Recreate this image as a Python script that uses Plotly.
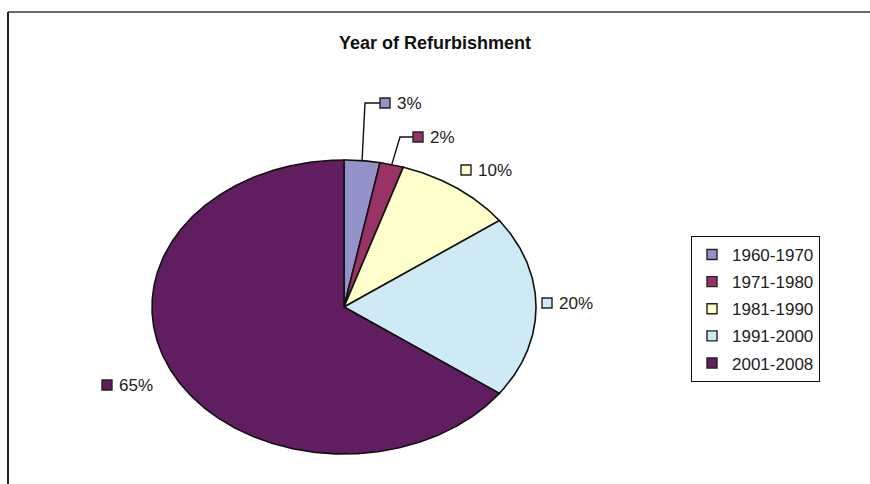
import numpy as np
import plotly.graph_objects as go

# ---- data ----
categories = ["1960-1970", "1971-1980", "1981-1990", "1991-2000", "2001-2008"]
shares = [3, 2, 10, 20, 65]
labels = ["3%", "2%", "10%", "20%", "65%"]
colors = ["#9393c9", "#993366", "#ffffcc", "#cdeaf5", "#601e60"]

# ---- layout constants (pixel space) ----
W, H = 870, 484
CX, CY, RX, RY = 344, 307, 192, 147
FONT = "Liberation Sans, Arial, sans-serif"
# label square marker positions (pixel) per slice
label_pos = [(385, 103), (418, 137), (466, 170), (547, 303), (107, 385)]
# leader elbow points for small slices (None = no leader)
leader_elbow = [(365, 103), (400, 137), None, None, None]

fig = go.Figure()

total = float(sum(shares))
cum = 0.0
mids = []
for cat, v, col in zip(categories, shares, colors):
    a0 = cum / total * 2 * np.pi
    a1 = (cum + v) / total * 2 * np.pi
    t = np.linspace(a0, a1, max(8, int(v * 6)))
    xs = np.concatenate([[CX], CX + RX * np.sin(t), [CX]])
    ys = np.concatenate([[CY], CY - RY * np.cos(t), [CY]])
    fig.add_trace(go.Scatter(x=xs, y=ys, mode="lines", fill="toself",
                             fillcolor=col, line=dict(color="#111111", width=1.6),
                             showlegend=False, hoverinfo="text", text=cat,
                             name=cat))
    am = (a0 + a1) / 2
    mids.append((CX + RX * np.sin(am), CY - RY * np.cos(am)))
    cum += v

# leader lines
for (mx, my), elbow, (lx, ly) in zip(mids, leader_elbow, label_pos):
    if elbow is None:
        continue
    fig.add_trace(go.Scatter(x=[mx, elbow[0], lx - 5], y=[my, elbow[1], ly],
                             mode="lines", line=dict(color="#111111", width=1.4),
                             showlegend=False, hoverinfo="skip"))

# label squares + texts
fig.add_trace(go.Scatter(
    x=[p[0] for p in label_pos], y=[p[1] for p in label_pos],
    mode="markers",
    marker=dict(symbol="square", size=10, color=colors,
                line=dict(color="#222222", width=1.4)),
    showlegend=False, hoverinfo="skip"))
for (lx, ly), txt in zip(label_pos, labels):
    fig.add_annotation(x=lx + 10, y=ly, text=txt, showarrow=False,
                       xanchor="left", yanchor="middle",
                       font=dict(size=17, color="#222222", family=FONT))

# legend entries
for cat, col in zip(categories, colors):
    fig.add_trace(go.Scatter(x=[None], y=[None], mode="markers", name=cat,
                             legendgroup=cat,
                             marker=dict(symbol="square", size=10, color=col,
                                         line=dict(color="#222222", width=1.4))))

# frame lines
fig.add_shape(type="line", x0=8, x1=W, y0=12, y1=12,
              line=dict(color="#6a6a6a", width=2))
fig.add_shape(type="line", x0=8, x1=8, y0=12, y1=H,
              line=dict(color="#222222", width=2))

fig.update_layout(
    width=W, height=H,
    margin=dict(l=0, r=0, t=0, b=0),
    paper_bgcolor="white", plot_bgcolor="white",
    xaxis=dict(range=[0, W], visible=False, fixedrange=True),
    yaxis=dict(range=[H, 0], visible=False, fixedrange=True),
    title=dict(text="<b>Year of Refurbishment</b>", x=0.5, xanchor="center",
               y=1 - 43 / H, yanchor="middle",
               font=dict(size=18, color="#111111", family=FONT)),
    legend=dict(x=691 / W, y=1 - 236 / H, xanchor="left", yanchor="top",
                bordercolor="#111111", borderwidth=1, bgcolor="white",
                font=dict(size=17, color="#222222", family=FONT),
                tracegroupgap=2, itemclick=False, itemdoubleclick=False),
    showlegend=True,
)

fig.write_html("out.html")
